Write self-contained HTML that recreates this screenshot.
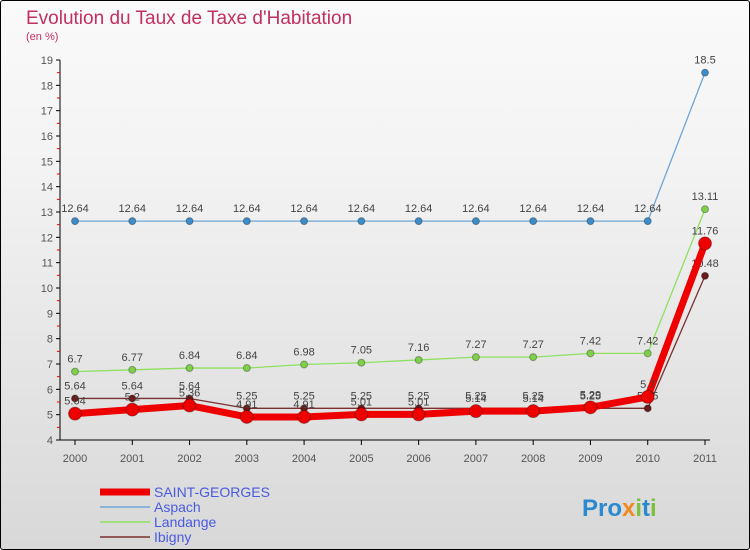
<!DOCTYPE html>
<html><head><meta charset="utf-8"><style>
body{margin:0;width:750px;height:550px;overflow:hidden;font-family:"Liberation Sans",sans-serif}
#c{position:absolute;left:0;top:0;width:748px;height:548px;border:1px solid #000;border-radius:3px;background:linear-gradient(#fafafa,#f3f3f3 30%,#d8d8d8)}
</style></head><body>
<div id="c">
<svg id="s" width="750" height="550" style="position:absolute;left:-1px;top:-1px">
<text x="26" y="24" font-size="19" fill="#c2305f">Evolution du Taux de Taxe d'Habitation</text>
<text x="26" y="40" font-size="11" fill="#c2305f">(en %)</text>
</svg>
</div>
<script>
const years=["2000","2001","2002","2003","2004","2005","2006","2007","2008","2009","2010","2011"];
const yTicks=[4,5,6,7,8,9,10,11,12,13,14,15,16,17,18,19];
const aspach=[12.64,12.64,12.64,12.64,12.64,12.64,12.64,12.64,12.64,12.64,12.64,18.5];
const landange=[6.7,6.77,6.84,6.84,6.98,7.05,7.16,7.27,7.27,7.42,7.42,13.11];
const ibigny=[5.64,5.64,5.64,5.25,5.25,5.25,5.25,5.25,5.25,5.25,5.25,10.48];
const stgeorges=[5.04,5.2,5.36,4.91,4.91,5.01,5.01,5.14,5.14,5.29,5.7,11.76];
const names=["SAINT-GEORGES","Aspach","Landange","Ibigny"];
const svg=document.getElementById('s');const NS="http://www.w3.org/2000/svg";
function el(t,a,p){const e=document.createElementNS(NS,t);for(const k in a)e.setAttribute(k,a[k]);(p||svg).appendChild(e);return e;}
const X=i=>75+i*(630/(years.length-1));
const Y=v=>440-(v-4)*(380/15);
const ax=el('line',{x1:60,y1:Y(19),x2:60,y2:440,stroke:'#000'});

const bx=el('line',{x1:60,y1:440,x2:710,y2:440,stroke:'#000'});

yTicks.forEach((t,i)=>{
 el('line',{x1:56,x2:60,y1:Y(t),y2:Y(t),stroke:'#000'});
 if(i<yTicks.length-1)el('line',{x1:57,x2:60,y1:Y(t+0.5),y2:Y(t+0.5),stroke:'#e00'});
 const tx=el('text',{x:53,y:Y(t)+4,'font-size':11,fill:'#555','text-anchor':'end'});tx.textContent=t;
 
});
years.forEach((y,i)=>{
 el('line',{x1:X(i),x2:X(i),y1:440,y2:445,stroke:'#000'});
 const tx=el('text',{x:X(i),y:462,'font-size':11,fill:'#555','text-anchor':'middle'});tx.textContent=y;
 
});
function series(d,col,w,r,dot,name){
 const g=el('g',{});
 el('polyline',{points:d.map((v,i)=>X(i)+','+Y(v)).join(' '),fill:'none',stroke:col,'stroke-width':w,'stroke-linejoin':'round'},g);
 d.forEach((v,i)=>{
  const c=el('circle',{cx:X(i),cy:Y(v),r:r,fill:dot,stroke:'rgba(0,0,0,0.3)'},g);
  
  const t=el('text',{x:X(i),y:Y(v)-9,'font-size':11,fill:'#444','text-anchor':'middle'},g);t.textContent=v;
 });
}
series(aspach,'#6fa6d6',1.3,3.5,'#3d8cc8','series-aspach');
series(landange,'#8ee060',1.3,3.5,'#7ed04a','series-landange');
series(ibigny,'#7a3030',1.3,3.5,'#6a1a1a','series-ibigny');
series(stgeorges,'#ee0000',7,6.5,'#ee0000','series-saint-georges');
const lc=['#ee0000','#6fa6d6','#8ee060','#7a3030'],lw=[7,1.5,1.5,1.5];
names.forEach((n,i)=>{
 const y=492+i*15;
 const l=el('line',{x1:100,x2:150,y1:y,y2:y,stroke:lc[i],'stroke-width':lw[i]});
 
 const t=el('text',{x:154,y:y+5,'font-size':14,fill:'#4a5ae0'});t.textContent=n;
 
});
const lg=el('text',{x:582,y:516,'font-size':24,'font-weight':'bold',fill:'#2a8ad0'});

lg.innerHTML='Pro<tspan fill="#f08a20">x</tspan><tspan fill="#7cc040">i</tspan>t<tspan fill="#7cc040">i</tspan>';
</script>
</body></html>
